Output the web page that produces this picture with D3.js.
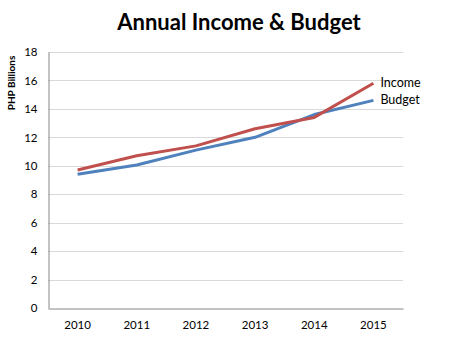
<!DOCTYPE html>
<html><head><meta charset="utf-8">
<script src="https://cdn.jsdelivr.net/npm/d3@7"></script>
<style>body{margin:0;background:#fff;} svg{display:block;}</style>
</head><body>
<script>
const years = ["2010","2011","2012","2013","2014","2015"];
const income = [9.7, 10.7, 11.4, 12.6, 13.4, 15.8];
const budget = [9.4, 10.05, 11.1, 12.0, 13.6, 14.6];
const yTicks = [0,2,4,6,8,10,12,14,16,18];
const seriesNames = ["Income","Budget"];
const colors = ["#C0504D","#4F81BD"];

const W=465,H=341;
const m={left:48,right:62,top:52,bottom:33};
const svg=d3.select("body").append("svg").attr("width",W).attr("height",H);
const font="Lato, 'Open Sans', sans-serif";
const x=d3.scaleBand().domain(years).range([m.left,W-m.right]);
const y=d3.scaleLinear().domain([0,18]).range([H-m.bottom,m.top]);

svg.append("g").selectAll("line").data(yTicks.filter(d=>d>0)).join("line")
  .attr("x1",m.left).attr("x2",W-m.right).attr("y1",d=>Math.round(y(d))+0.5).attr("y2",d=>Math.round(y(d))+0.5)
  .attr("stroke","#d9d9d9").attr("stroke-width",1);

const ya=svg.append("g").attr("transform",`translate(${m.left+0.5},0)`)
  .call(d3.axisLeft(y).tickValues(yTicks).tickSize(0).tickPadding(11));
ya.select(".domain").attr("stroke","#868686");
ya.selectAll("text").attr("font-family",font).attr("font-size",11.5).attr("fill","#000");

const xa=svg.append("g").attr("transform",`translate(0,${Math.round(y(0))+0.5})`)
  .call(d3.axisBottom(x).tickSize(0).tickPadding(12));
xa.select(".domain").attr("stroke","#868686");
xa.selectAll("text").attr("font-family",font).attr("font-size",11.5).attr("fill","#000");

const line=d3.line().x((d,i)=>x(years[i])+x.bandwidth()/2).y(d=>y(d));
const data=[income,budget];
[1,0].forEach(k=>{
  svg.append("path").datum(data[k]).attr("d",line).attr("fill","none")
    .attr("stroke",colors[k]).attr("stroke-width",3).attr("stroke-linejoin","round");
});
data.forEach((s,k)=>{
  svg.append("text").attr("x",x(years[5])+x.bandwidth()/2+7).attr("y",y(s[5])+4)
    .attr("font-family",font).attr("font-size",12.5).attr("fill","#000").text(seriesNames[k]);
});

svg.append("text").attr("x",239).attr("y",30).attr("text-anchor","middle")
  .attr("font-family",font).attr("font-weight","bold").attr("font-size",22).text("Annual Income & Budget");
svg.append("text").attr("transform","translate(15,83) rotate(-90)").attr("text-anchor","middle")
  .attr("font-family",font).attr("font-weight","bold").attr("font-size",10).text("PHP Billions");
</script>
</body></html>
